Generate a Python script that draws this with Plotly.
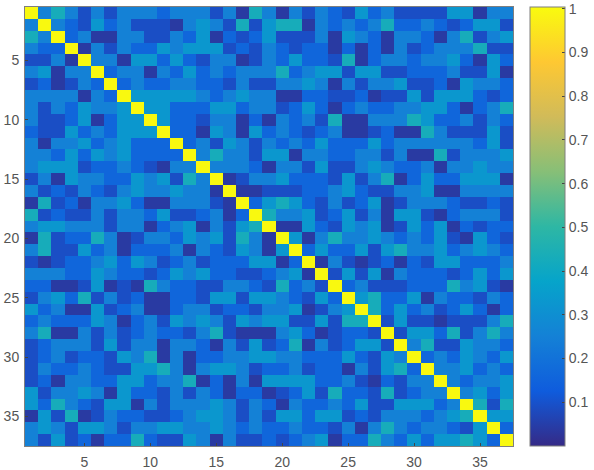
import numpy as np
import plotly.graph_objects as go

# colour bands -> value
band_values = [0.04, 0.09, 0.16, 0.25, 0.33, 0.43]
diagonal_value = 1.0

# band of every cell to the right of the diagonal, read row by row (matrix is symmetric)
upper_bands = [
    [3,5,3,1,3,1,3,3,3,2,3,3,3,1,3,0,5, 3,0,3,1,3,2,1,4,2,3,1,1,1,1,4,4,0,3,3],
    [3,2,1,4,2,3,1,1,1,0,3,4,3,1,5,1, 4,5,5,0,3,2,3,2,3,5,2,2,3,2,1,2,4,4,1],
    [2,3,0,0,3,3,1,1,3,2,4,0,2,1,2, 4,1,1,1,3,0,4,3,2,0,3,3,2,0,3,5,1,3,4],
    [0,3,1,3,2,2,4,3,4,4,4,1,2,1, 3,2,1,2,2,0,2,0,2,0,3,1,2,3,3,3,5,1,1],
    [3,3,0,4,4,2,4,2,1,3,3,0,1, 3,2,4,2,2,1,5,0,2,3,3,2,3,3,4,2,0,4,2],
    [2,3,3,0,3,2,4,2,3,2,3,3, 3,5,2,3,4,4,1,4,4,1,1,2,2,2,3,1,1,4,0],
    [2,3,2,2,3,3,2,2,1,3,1, 1,3,3,4,3,0,3,1,3,3,4,1,1,2,0,4,3,3,2],
    [4,4,4,4,4,3,2,3,4,3, 3,0,0,2,2,1,1,2,0,1,1,4,1,4,4,4,2,1,2],
    [4,4,2,2,2,4,4,2,3, 3,1,2,4,2,0,2,3,2,2,3,3,4,4,2,0,2,3,5],
    [4,2,2,1,3,3,0,2, 0,3,2,3,1,5,0,0,3,3,3,5,4,2,2,3,1,3,2],
    [2,2,0,4,3,0,4, 2,3,2,1,2,3,0,0,1,2,0,0,5,3,1,1,1,4,1],
    [2,3,1,4,3,1, 3,2,3,2,4,2,2,2,4,2,3,3,3,3,3,3,2,4,1],
    [3,5,3,3,1, 4,4,0,3,3,2,2,3,3,1,3,0,0,5,1,3,3,3,4],
    [3,3,3,2, 0,3,3,1,4,1,1,3,4,3,2,2,3,0,3,3,4,3,3],
    [0,1,3, 3,4,2,2,2,1,4,1,3,5,0,2,4,2,2,4,4,4,0],
    [0,0, 1,1,1,2,2,3,4,2,1,1,3,3,4,0,0,3,3,3,3],
    [2, 4,5,4,2,1,3,1,2,4,0,1,3,3,3,2,1,1,2,1],
    [5,3,3,4,1,2,4,1,3,0,4,4,1,0,2,3,3,3,1],
    [0,0,4,2,1,4,3,4,0,1,4,2,4,0,2,1,2,2],
    [4,0,3,5,3,3,4,3,2,3,2,4,1,0,4,2,1],
    [2,4,2,2,4,1,4,5,3,3,4,2,3,4,3,2],
    [0,3,1,0,1,2,0,2,1,4,4,2,2,2,3],
    [1,4,1,4,0,3,2,2,2,1,2,4,2,4],
    [2,3,1,1,1,2,2,2,5,3,4,1,0],
    [4,5,2,2,4,0,3,2,2,1,3,2],
    [5,2,4,2,3,1,2,4,2,0,2],
    [1,4,1,1,0,1,1,1,3,5],
    [1,4,4,2,5,1,3,5,3],
    [3,5,1,1,4,3,3,2],
    [2,3,2,4,3,2,4],
    [3,3,4,2,3,2],
    [3,2,3,3,4],
    [3,4,2,4],
    [5,1,5],
    [4,4],
    [2],
]

n = 37
labels = list(range(1, n + 1))
x_ticks = [5, 10, 15, 20, 25, 30, 35]
y_ticks = [5, 10, 15, 20, 25, 30, 35]
cbar_ticks = [0.1, 0.2, 0.3, 0.4, 0.5, 0.6, 0.7, 0.8, 0.9, 1]

parula = ["#352a87", "#0f5cdd", "#1481d6", "#06a4ca", "#2eb7a4",
          "#87bf77", "#d1bb59", "#fec832", "#f9fb0e"]
colorscale = [[i / 8, c] for i, c in enumerate(parula)]

z = np.full((n, n), diagonal_value)
for i, row in enumerate(upper_bands):
    for k, band in enumerate(row):
        j = i + 1 + k
        z[i, j] = z[j, i] = band_values[band]

text_color = "#555555"
frame = "#7f7f7f"
font = dict(family="Liberation Sans, Arial, sans-serif", size=14, color=text_color)

# page geometry: plot 25..513 px wide, colour bar starts at 530 px
page_w, page_h = 594, 470
m_l, m_r, m_t, m_b = 25, 0, 7, 24
inner_w = page_w - m_l - m_r

fig = go.Figure(go.Heatmap(
    z=z, x=labels, y=labels,
    colorscale=colorscale, zmin=0, zmax=1.004,
    colorbar=dict(
        x=(530 - m_l) / inner_w, xanchor="left", xpad=0,
        y=0.5, yanchor="middle", ypad=0, len=1,
        thickness=35, outlinecolor=frame, outlinewidth=1,
        tickmode="array", tickvals=cbar_ticks, tickprefix="\u00a0",
        ticks="inside", ticklen=3, tickcolor="#444444", tickwidth=1,
        tickfont=font,
    ),
))
axis = dict(
    tickmode="array", ticks="inside", ticklen=3, tickcolor="#444444",
    showline=True, mirror=True, linecolor=frame, linewidth=1,
    showgrid=False, zeroline=False, tickfont=font, automargin=False,
)
fig.update_xaxes(range=[0.5, 37.5], domain=[0, (513 - m_l) / inner_w], ticklabelstandoff=3,
                 tickvals=x_ticks, ticktext=[str(v) for v in x_ticks], **axis)
fig.update_yaxes(range=[37.5, 0.5], ticklabelstandoff=2,
                 tickvals=y_ticks, ticktext=[str(v) for v in y_ticks], **axis)
fig.update_layout(
    width=page_w, height=page_h, autosize=False,
    margin=dict(l=m_l, r=m_r, t=m_t, b=m_b, pad=0),
    paper_bgcolor="white", plot_bgcolor="white", font=font,
)
fig.write_html("out.html", config={"displayModeBar": False},
               post_script="document.body.style.margin='0';")
